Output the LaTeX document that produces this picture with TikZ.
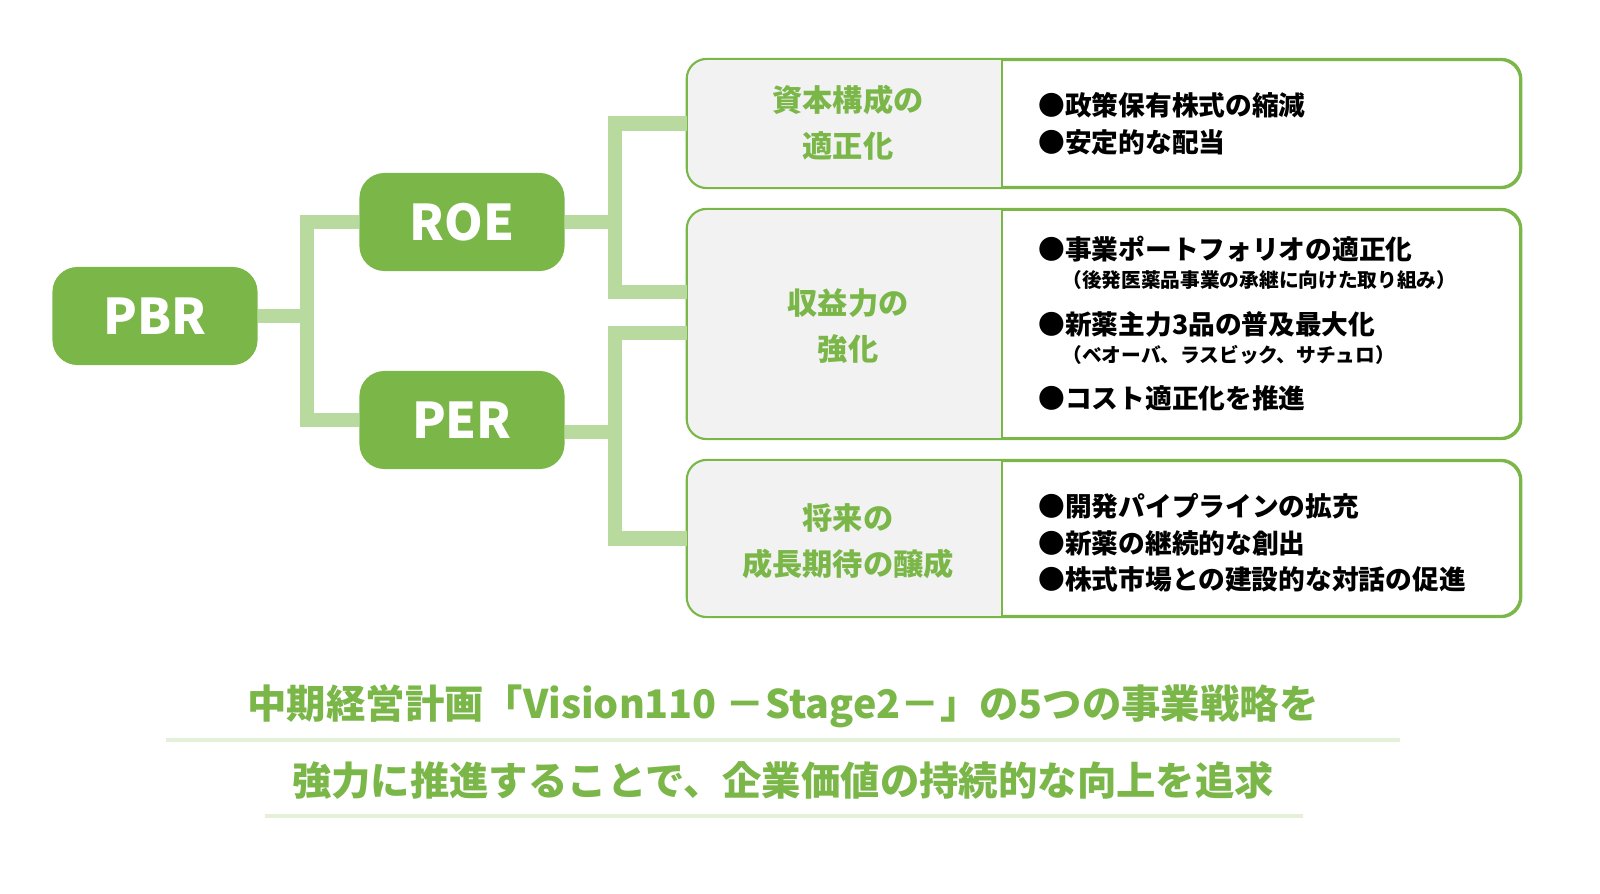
\documentclass[tikz,border=0pt]{standalone}
\usepackage{fontspec}
\setmainfont{Noto Sans CJK JP}
\usepackage{tikz}
\usetikzlibrary{positioning,calc}

\definecolor{leaf}{HTML}{7AB648}
\definecolor{stem}{HTML}{B9DA9E}
\definecolor{capgray}{HTML}{F2F2F2}
\definecolor{lineunder}{HTML}{E4F0DA}

\begin{document}
\begin{tikzpicture}[x=0.01cm, y=-0.01cm,
  key/.style={fill=leaf, rounded corners=2.5mm, minimum width=2.05cm, minimum height=0.98cm, text=white, font=\fontsize{14}{16}\selectfont\bfseries},
  panel/.style={draw=leaf, line width=0.6pt, rounded corners=2mm, minimum width=8.32cm},
  link/.style={stem, line width=4pt},
  captext/.style={text=leaf, align=center, font=\fontsize{8.6}{13}\selectfont\bfseries},
  item/.style={anchor=west, font=\fontsize{7.6}{9}\selectfont\bfseries},
  note/.style={anchor=west, font=\fontsize{5.6}{7}\selectfont\bfseries},
  slogan/.style={text=leaf, font=\fontsize{11.2}{13}\selectfont\bfseries}]

\useasboundingbox (0,0) rectangle (1600,894);

  % Keys
  \node[key] (pbr) at (155,316) {PBR};
  \node[key] (roe) at (462,222) {ROE};
  \node[key] (per) at (462,420) {PER};

  % Panels
  \node[panel, minimum height=1.27cm] (box1) at (1104,123.5) {};
  \node[panel, minimum height=2.28cm] (box2) at (1104,324) {};
  \node[panel, minimum height=1.55cm] (box3) at (1104,538.5) {};
  \foreach \b in {box1,box2,box3} {
    \begin{scope}
      \clip (\b.north west) rectangle (1002,0 |- \b.south);
      \fill[capgray, rounded corners=2mm] (\b.north west) rectangle (\b.south east);
    \end{scope}
    \draw[leaf, line width=0.6pt, rounded corners=2mm] (\b.north west) rectangle (\b.south east);
    \draw[leaf, line width=0.6pt] (1002,0 |- \b.north) -- (1002,0 |- \b.south);
  }

  % Links
  \draw[link] (pbr.east) -- ++(49,0) |- (roe.west);
  \draw[link] (pbr.east) -- ++(49,0) |- (per.west);
  \draw[link] (roe.east) -- ++(50,0) |- (box1.west);
  \draw[link] (roe.east) -- ++(50,0) |- ($(box2.west)+(0,-32)$);
  \draw[link] ($(per.east)+(0,12)$) -- ++(50,0) |- ($(box2.west)+(0,9)$);
  \draw[link] ($(per.east)+(0,12)$) -- ++(50,0) |- (box3.west);

  % Captions
  \node[captext] (cap1) at (848,123) {資本構成の\\適正化};
  \node[captext] (cap2) at (848,326) {収益力の\\強化};
  \node[captext] (cap3) at (848,541) {将来の\\成長期待の醸成};

  % Items
  \node[item] (i11) at (1026,105) {●政策保有株式の縮減};
  \node[item] (i12) at (1026,142) {●安定的な配当};
  \node[item] (i21) at (1026,249) {●事業ポートフォリオの適正化};
  \node[note] (n21) at (1050,280) {（後発医薬品事業の承継に向けた取り組み）};
  \node[item] (i22) at (1026,324) {●新薬主力3品の普及最大化};
  \node[note] (n22) at (1050,355) {（ベオーバ、ラスビック、サチュロ）};
  \node[item] (i23) at (1026,398) {●コスト適正化を推進};
  \node[item] (i31) at (1026,506) {●開発パイプラインの拡充};
  \node[item] (i32) at (1026,543) {●新薬の継続的な創出};
  \node[item] (i33) at (1026,579) {●株式市場との建設的な対話の促進};

  % Slogan
  \draw[lineunder, line width=1.4pt] (166,740) -- (1400,740);
  \draw[lineunder, line width=1.4pt] (265,816) -- (1303,816);
  \node[slogan] (s1) at (783,706) {中期経営計画「Vision110 －Stage2－」の5つの事業戦略を};
  \node[slogan] (s2) at (783,780) {強力に推進することで、企業価値の持続的な向上を追求};

\end{tikzpicture}
\end{document}
